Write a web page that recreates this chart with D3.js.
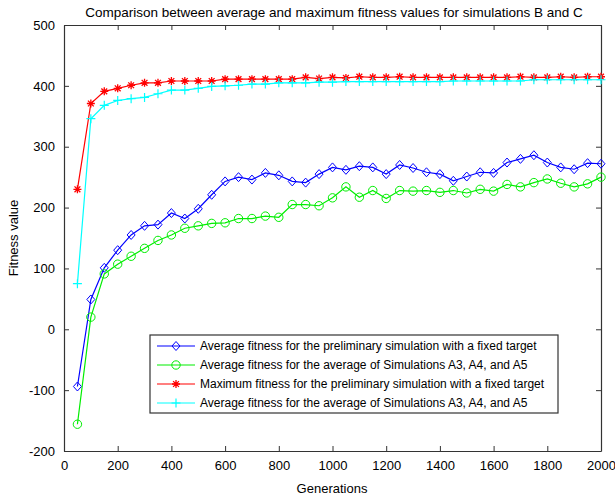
<!DOCTYPE html>
<html>
<head>
<meta charset="utf-8">
<script src="https://cdn.jsdelivr.net/npm/d3@7"></script>
<style>
  body { margin: 0; background: #fff; }
  svg { display: block; font-family: "Liberation Sans", Arial, sans-serif; }
  .axis path, .axis line { stroke: #333; }
  .axis text { fill: #000; font-size: 13px; }
</style>
</head>
<body>
<svg id="chart" width="615" height="497"></svg>
<script>
// generations sampled every 50
var generations = d3.range(50, 2001, 50);

var avgPrelim = [-94, 49, 101, 130, 155, 170, 172, 191, 182, 198,
  221, 243, 250, 246, 257, 253, 243, 241, 255, 266,
  262, 268, 266, 255, 270, 265, 258, 255, 244, 251,
  258, 257, 274, 280, 286, 274, 266, 263, 273, 272];

var avgSimA = [-156, 20, 91, 107, 120, 133, 146, 155, 166, 170,
  174, 175, 182, 182, 186, 184, 205, 205, 203, 216,
  234, 217, 228, 215, 228, 227, 228, 225, 228, 224,
  230, 227, 238, 234, 241, 247, 240, 234, 239, 250];

var maxPrelim = [230, 371, 391, 396, 401, 405, 405, 408, 408, 408,
  408, 411, 411, 411, 411, 411, 411, 414, 412, 414,
  413, 415, 414, 414, 415, 414, 414, 414, 414, 414,
  414, 414, 414, 415, 414, 414, 415, 414, 415, 415];

var maxSimA = [75, 346, 368, 376, 379, 381, 387, 393, 393, 396,
  399, 400, 401, 403, 403, 405, 405, 405, 406, 406,
  407, 407, 407, 407, 407, 407, 407, 407, 408, 408,
  408, 408, 408, 408, 410, 410, 410, 410, 410, 410];

var xTicks = d3.range(0, 2001, 200);
var yTicks = d3.range(-200, 501, 100);

var seriesNames = [
  "Average fitness for the preliminary simulation with a fixed target",
  "Average fitness for the average of Simulations A3, A4, and A5",
  "Maximum fitness for the preliminary simulation with a fixed target",
  "Average fitness for the average of Simulations A3, A4, and A5"
];
var seriesColors = ["#0000ff", "#00ee00", "#ff0000", "#00ffff"];
var seriesMarkers = ["diamond", "circle", "asterisk", "plus"];
var seriesValues = [avgPrelim, avgSimA, maxPrelim, maxSimA];

var margin = {left: 64, right: 14, top: 25, bottom: 46};
var W = 615, H = 497;

var svg = d3.select("#chart");

var x = d3.scaleLinear().domain([0, 2000]).range([margin.left, W - margin.right]);
var y = d3.scaleLinear().domain([-200, 500]).range([H - margin.bottom, margin.top]);

var plainNum = function(d){ return String(d); };

// box axes, MATLAB style ticks pointing in
svg.append("g").attr("class", "axis")
  .attr("transform", "translate(0," + y(-200) + ")")
  .call(d3.axisBottom(x).tickValues(xTicks).tickSizeInner(-5).tickSizeOuter(0).tickPadding(8).tickFormat(plainNum))
  .call(function(g){ g.selectAll("text").attr("dy", "0.85em"); });
svg.append("g").attr("class", "axis")
  .attr("transform", "translate(0," + y(500) + ")")
  .call(d3.axisTop(x).tickValues(xTicks).tickSizeInner(-5).tickSizeOuter(0).tickFormat(""));
svg.append("g").attr("class", "axis")
  .attr("transform", "translate(" + x(0) + ",0)")
  .call(d3.axisLeft(y).tickValues(yTicks).tickSizeInner(-5).tickSizeOuter(0).tickPadding(9).tickFormat(plainNum));
svg.append("g").attr("class", "axis")
  .attr("transform", "translate(" + x(2000) + ",0)")
  .call(d3.axisRight(y).tickValues(yTicks).tickSizeInner(-5).tickSizeOuter(0).tickFormat(""));

svg.selectAll(".axis .domain").attr("stroke-width", 1.2);

// marker shapes
function drawMarker(g, kind, color) {
  if (kind == "diamond") {
    g.append("path").attr("d", "M0,-4.5L4,0L0,4.5L-4,0Z")
      .attr("fill", "none").attr("stroke", color).attr("stroke-width", 1);
  } else if (kind == "circle") {
    g.append("circle").attr("r", 4.2)
      .attr("fill", "none").attr("stroke", color).attr("stroke-width", 1);
  } else if (kind == "asterisk") {
    g.append("path").attr("d", "M0,-4V4M-4,0H4M-2.9,-2.9L2.9,2.9M-2.9,2.9L2.9,-2.9")
      .attr("stroke", color).attr("stroke-width", 1.3);
  } else if (kind == "plus") {
    g.append("path").attr("d", "M0,-4.5V4.5M-4.5,0H4.5")
      .attr("stroke", color).attr("stroke-width", 1.2);
  }
}

var line = d3.line()
  .x(function(d){ return x(d[0]); })
  .y(function(d){ return y(d[1]); });

seriesValues.forEach(function(vals, i){
  var pts = generations.map(function(gen, k){ return [gen, vals[k]]; });
  var g = svg.append("g").attr("class", "series");
  g.append("path").datum(pts)
    .attr("d", line)
    .attr("fill", "none")
    .attr("stroke", seriesColors[i])
    .attr("stroke-width", 1.2);
  pts.forEach(function(p){
    var m = g.append("g").attr("transform", "translate(" + x(p[0]) + "," + y(p[1]) + ")");
    drawMarker(m, seriesMarkers[i], seriesColors[i]);
  });
});

// title and axis labels
svg.append("text")
  .attr("x", 334).attr("y", 17)
  .attr("text-anchor", "middle")
  .attr("font-size", "13.5px")
  .text("Comparison between average and maximum fitness values for simulations B and C");

svg.append("text")
  .attr("x", 332).attr("y", 493)
  .attr("text-anchor", "middle")
  .attr("font-size", "13px")
  .text("Generations");

svg.append("text")
  .attr("transform", "translate(18," + ((y(500) + y(-200)) / 2) + ") rotate(-90)")
  .attr("text-anchor", "middle")
  .attr("font-size", "13px")
  .text("Fitness value");

// legend
var legend = svg.append("g").attr("class", "legend");
legend.append("rect")
  .attr("x", 150).attr("y", 335)
  .attr("width", 408).attr("height", 78)
  .attr("fill", "#fff")
  .attr("stroke", "#333")
  .attr("stroke-width", 1.2);

seriesNames.forEach(function(name, i){
  var ly = 346 + i * 19;
  legend.append("line")
    .attr("x1", 157).attr("x2", 195)
    .attr("y1", ly).attr("y2", ly)
    .attr("stroke", seriesColors[i]).attr("stroke-width", 1.2);
  var m = legend.append("g").attr("transform", "translate(176," + ly + ")");
  drawMarker(m, seriesMarkers[i], seriesColors[i]);
  legend.append("text")
    .attr("x", 200).attr("y", ly + 4)
    .attr("font-size", "12px")
    .text(name);
});
</script>
</body>
</html>
